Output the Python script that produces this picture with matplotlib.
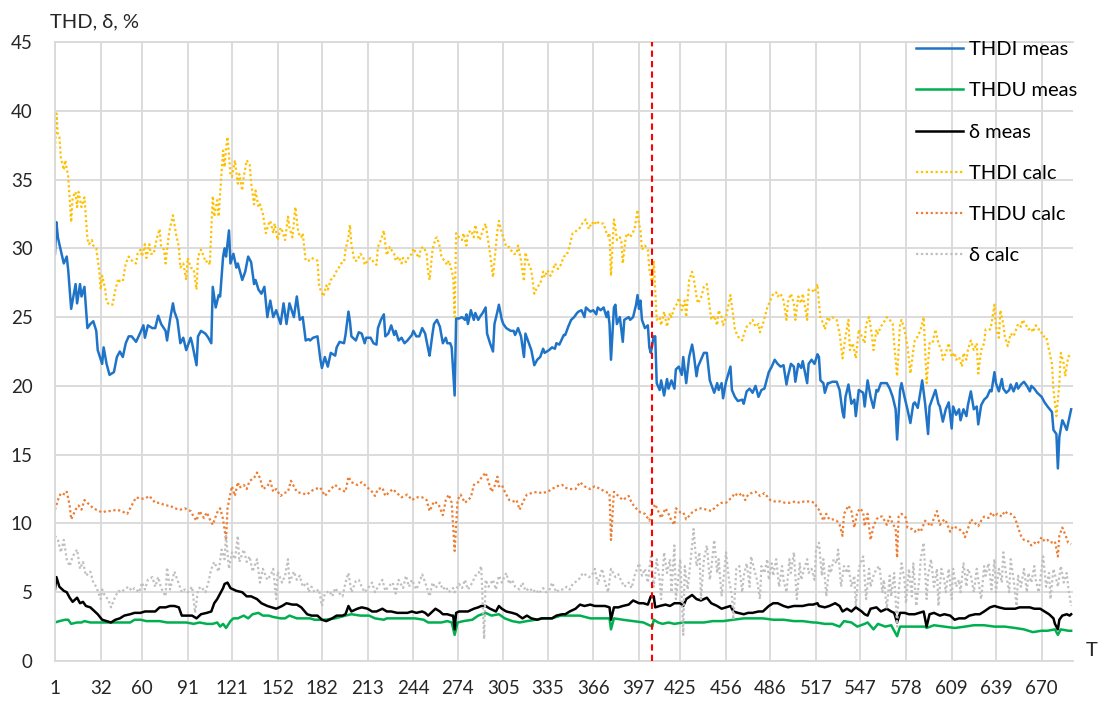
import matplotlib.pyplot as plt

# (day, value %)
thdi_meas = [(1,29.6),(2,31.9),(3,30.8),(4,30.3),(7,28.9),(9,29.4),(10,28.4),(12,25.6),(15,27.4),(16,26.0),(18,27.4),(19,26.5),(21,27.2),(23,24.2),(25,24.5),(27,24.7),(29,24.0),(30,22.6),(33,21.6),(34,22.8),(36,21.6),(38,20.8),(41,21.0),(43,22.1),(45,22.5),(47,22.1),(49,23.1),(51,23.6),(53,23.6),(56,23.2),(59,23.9),(61,24.4),(62,23.5),(64,24.4),(67,24.2),(69,24.2),(71,25.1),(73,24.5),(76,24.0),(77,23.3),(79,24.8),(81,26.0),(82,25.4),(84,24.8),(86,23.1),(88,23.5),(90,22.6),(93,23.5),(94,23.1),(97,21.5),(98,23.6),(100,24.0),(103,23.8),(105,23.5),(107,23.1),(108,27.2),(110,25.7),(112,26.6),(113,26.5),(115,29.4),(116,30.0),(117,29.4),(119,31.3),(120,28.9),(122,29.6),(124,28.6),(125,28.9),(128,27.7),(130,28.3),(132,29.4),(134,29.0),(136,27.4),(137,27.7),(139,27.0),(141,26.7),(143,27.2),(145,25.0),(147,26.2),(149,25.0),(151,25.5),(154,24.5),(156,26.0),(158,24.5),(160,26.0),(163,25.0),(165,26.5),(167,24.8),(169,25.0),(171,23.3),(173,23.4),
             (174,23.3),(176,23.5),(179,23.6),(181,21.9),(182,21.3),(184,22.1),(186,21.4),(188,22.4),(191,22.2),(192,22.8),(194,23.2),(197,23.1),(198,23.7),(200,25.4),(201,24.7),(202,23.6),(205,23.3),(207,23.9),(209,23.8),(211,23.1),(212,23.5),(215,23.5),(217,23.1),(219,23.0),(220,24.2),(222,24.8),(224,25.2),(225,23.6),(227,23.8),(229,24.4),(231,23.7),(232,24.0),(234,23.3),(236,23.5),(238,23.1),(240,23.3),(243,23.7),(244,24.0),(246,23.6),(248,23.6),(250,24.2),(252,23.8),(254,22.7),(255,22.2),(257,23.8),(258,24.5),(260,24.8),(262,24.3),(264,23.1),(266,23.5),(267,23.1),(269,23.1),(270,22.8),(272,19.3),(273,24.9),(275,24.9),(277,25.0),(279,24.8),(280,25.2),(281,24.5),(283,25.5),(285,24.8),(286,25.3),(288,24.8),(289,25.0),(291,25.3),(293,25.7),(294,23.8),(296,23.1),(298,22.5),(299,24.5),(301,25.4),(302,25.9),(304,24.8),(305,24.5),(307,24.2),(310,24.0),(312,24.0),(313,23.7),(315,24.2),(317,23.6),(319,22.1),(320,23.8),(322,23.2),(324,22.6),(326,21.5),(328,21.9),(330,22.1),(332,22.7),(333,22.4),(336,22.6),(338,22.8),(340,22.7),(341,23.1),(343,23.0),(346,23.7),
             (347,23.7),(349,24.3),(351,24.8),(353,25.0),(355,25.3),(356,25.4),(358,25.5),(360,25.0),(361,25.7),(364,25.4),(366,25.5),(368,25.2),(369,25.7),(371,25.5),(373,25.7),(375,25.0),(376,25.4),(377,24.5),(378,21.9),(380,25.7),(381,25.9),(382,24.5),(384,25.0),(386,23.2),(387,24.8),(390,25.0),(391,24.8),(393,25.0),(395,25.9),(396,26.6),(397,25.6),(398,26.2),(399,24.8),(401,24.2),(403,24.4),(404,22.8),(405,22.4),(407,23.6),(408,23.6),(409,20.2),(411,19.7),(412,20.4),(414,19.3),(416,20.5),(417,19.8),(419,20.4),(421,19.8),(422,21.2),(424,21.4),(426,20.8),(427,22.1),(429,20.2),(431,22.1),(433,23.0),(434,22.4),(436,20.7),(437,21.4),(439,21.9),(441,22.4),(443,22.4),(445,20.4),(446,20.1),(448,19.5),(450,20.2),(451,19.7),(453,20.2),(454,19.1),(456,20.3),(459,21.4),(460,19.7),(462,19.2),(464,18.9),(467,19.0),(468,18.7),(470,19.6),(472,19.8),(474,19.5),(476,20.0),(478,19.2),(480,19.7),(482,19.8),(485,21.0),(487,21.4),(489,21.9),(491,21.6),(493,21.4),(495,21.5),(497,20.1),(498,20.7),(500,21.6),(502,21.4),(503,20.3),(505,21.6),(507,21.3),(508,21.8),(511,20.2),(512,21.6),(514,21.9),(516,21.6),(518,22.3),
             (519,22.1),(520,20.4),(522,20.2),(523,19.5),(525,20.2),(526,20.2),(528,20.3),(531,20.3),(533,19.7),(535,18.1),(536,17.7),(537,19.2),(539,20.1),(541,18.7),(543,19.0),(544,17.8),(546,19.7),(549,19.5),(550,18.5),(552,20.4),(554,19.2),(556,18.4),(558,19.7),(559,19.6),(561,20.2),(563,20.2),(565,20.2),(567,19.8),(569,19.2),(571,18.3),(572,16.1),(574,19.7),(575,20.2),(577,19.2),(579,18.3),(581,17.3),(583,18.7),(584,18.8),(586,18.4),(588,19.7),(589,20.4),(591,18.7),(593,16.5),(594,18.5),(596,19.1),(598,19.7),(600,18.7),(601,18.5),(603,17.4),(605,18.3),(607,18.8),(609,16.9),(610,18.5),(612,17.9),(614,18.3),(615,17.5),(617,18.3),(619,17.8),(620,18.6),(622,19.6),(624,18.3),(626,18.5),(627,17.2),(629,18.6),(631,19.0),(633,19.2),(635,19.7),(636,19.6),(638,21.0),(639,20.2),(641,19.6),(643,20.5),(644,19.8),(646,19.5),(648,19.7),(649,20.1),(651,19.6),(653,20.2),(654,19.8),(656,20.1),(658,20.3),(660,20.0),(662,19.6),(663,20.0),(665,19.8),(667,19.5),(670,19.2),(672,18.8),(674,18.5),(677,18.1),(678,16.8),(680,16.5),(681,14.0),(682,16.3),(684,17.5),(685,17.3),(687,16.8),(689,17.8),(690,18.3)]

thdu_meas = [(1,2.8),(4,2.9),(8,3.0),(10,3.0),(12,2.7),(16,2.8),(19,2.8),(21,2.9),(25,2.8),(29,2.8),(34,2.8),(38,2.8),(43,2.8),(47,2.8),(52,2.8),(55,3.0),(59,3.0),(63,2.9),(68,2.9),(72,2.9),(77,2.8),(81,2.8),(86,2.8),(90,2.8),(95,2.7),(99,2.8),(104,2.7),(108,2.7),(111,2.8),(113,2.5),(115,2.7),(117,2.4),(120,2.9),(122,3.1),(125,3.1),(129,3.3),(132,3.1),(135,3.4),(139,3.5),(142,3.3),(146,3.3),(149,3.2),(154,3.1),(157,3.1),(160,3.3),(165,3.1),(169,3.1),(174,3.1),
             (177,3.0),(184,3.0),(191,3.1),(198,3.3),(202,3.4),(208,3.3),(214,3.3),(218,3.1),(224,3.0),(226,3.1),(232,3.1),(238,3.1),(245,3.1),(251,3.0),(254,2.8),(259,2.8),(263,2.8),(267,2.9),(270,2.8),(272,1.9),(274,2.8),(278,2.9),(284,3.0),(288,3.3),(293,3.5),(297,3.3),(302,3.4),(306,3.1),(311,2.9),(316,2.8),(321,2.9),(327,3.0),(332,3.1),(338,3.1),(344,3.3),
             (350,3.3),(357,3.3),(364,3.1),(371,3.1),(377,3.1),(378,2.3),(380,3.1),(386,3.0),(393,2.9),(400,2.8),(406,2.5),(407,3.0),(410,2.8),(413,2.7),(417,2.8),(421,2.7),(427,2.8),(434,2.8),(441,2.8),(447,2.9),(454,2.9),(461,3.0),(468,3.1),(474,3.1),(481,3.1),(488,3.0),(495,3.0),(502,2.9),(508,2.9),(515,2.8),
             (517,2.8),(523,2.7),(528,2.7),(533,2.5),(536,2.9),(541,2.8),(545,2.5),(550,2.7),(552,2.8),(556,2.3),(559,2.7),(564,2.5),(568,2.6),(572,1.8),(574,2.5),(579,2.5),(585,2.5),(591,2.5),(592,2.4),(597,2.6),(604,2.5),(611,2.4),(618,2.5),(624,2.6),(631,2.6),(638,2.5),(645,2.5),(652,2.4),(658,2.3),(664,2.1),(670,2.2),(674,2.2),(679,2.3),(681,1.9),(683,2.3),(688,2.2),(690,2.2)]

delta_meas = [(1,5.2),(2,6.1),(4,5.4),(7,5.1),(9,5.0),(11,4.6),(13,4.3),(16,4.6),(18,4.2),(20,4.3),(22,4.0),(25,3.9),(28,3.6),(30,3.4),(33,3.0),(36,2.9),(39,2.8),(42,3.0),(45,3.1),(48,3.3),(52,3.4),(55,3.5),(59,3.5),(62,3.6),(65,3.6),(69,3.6),(72,3.9),(76,3.9),(79,4.0),(82,4.0),(85,3.9),(87,3.3),(90,3.3),(94,3.3),(97,3.1),(100,3.4),(104,3.5),(107,3.6),(109,4.2),(111,4.5),(113,4.9),(115,5.3),(116,5.6),(118,5.7),(120,5.3),(122,5.2),(124,5.1),(128,5.0),(131,4.7),(134,4.7),(138,4.5),(141,4.2),(145,4.0),(148,3.9),(151,3.8),(155,4.0),(158,4.2),(162,4.1),(165,4.1),(168,3.9),(172,3.4),
              (175,3.3),(179,3.3),(182,3.0),(185,2.9),(189,3.1),(192,3.3),(196,3.3),(198,3.4),(200,4.0),(202,3.6),(206,3.8),(209,3.9),(213,3.8),(216,3.6),(219,3.6),(223,3.8),(226,3.6),(229,3.6),(233,3.5),(236,3.5),(240,3.5),(243,3.6),(246,3.5),(250,3.6),(252,3.5),(254,3.3),(257,3.6),(259,3.8),(262,3.6),(264,3.4),(267,3.4),(270,3.3),(271,3.3),(272,2.3),(273,3.5),(275,3.6),(278,3.6),(281,3.6),(285,3.8),(288,3.9),(290,4.0),(293,4.0),(296,3.8),(300,3.6),(302,4.0),(304,3.8),(307,3.6),(311,3.5),(314,3.4),(318,3.1),(321,3.3),(324,3.1),(328,3.0),(331,3.1),(335,3.1),(338,3.1),(341,3.3),(345,3.4),
              (347,3.4),(350,3.6),(354,3.8),(357,4.1),(360,4.0),(364,4.1),(367,4.0),(371,4.0),(374,4.0),(377,3.9),(378,3.0),(380,3.9),(383,3.9),(386,4.0),(390,4.1),(393,4.4),(397,4.2),(400,4.2),(403,4.1),(405,4.7),(407,4.7),(408,3.9),(411,4.0),(415,4.1),(418,4.0),(421,4.2),(425,4.2),(427,4.0),(429,4.5),(433,4.8),(436,4.5),(439,4.4),(443,4.6),(446,4.2),(450,4.0),(453,3.8),(456,3.9),(459,4.0),(461,3.6),(464,3.5),(468,3.4),(471,3.5),(474,3.5),(478,3.6),(481,3.6),(485,4.0),(488,4.2),(491,4.2),(495,4.0),(498,3.9),(502,4.0),(505,4.0),(508,4.0),(512,4.1),(515,4.1),(518,4.2),
              (519,4.0),(523,3.9),(526,4.0),(530,4.2),(533,4.0),(535,3.6),(538,3.8),(541,3.6),(544,3.9),(548,3.6),(550,3.4),(552,3.3),(554,3.8),(558,3.9),(561,3.6),(565,3.8),(568,3.6),(570,3.5),(572,2.8),(574,3.5),(577,3.5),(580,3.4),(584,3.4),(587,3.5),(590,3.6),(592,2.5),(594,3.4),(597,3.5),(601,3.3),(604,3.4),(608,3.3),(611,3.0),(614,3.1),(618,3.1),(621,3.3),(625,3.4),(628,3.4),(631,3.6),(635,3.9),(638,4.0),(641,3.9),(645,3.8),(648,3.8),(652,3.8),(655,3.9),(658,3.9),(662,3.9),(665,3.8),(669,3.8),(672,3.6),(675,3.4),(678,3.1),(679,2.7),(681,2.3),(682,3.0),(684,3.3),(687,3.4),(689,3.3),(690,3.4)]

thdi_calc = [(1,36.9),(2,39.8),(3,38.3),(4,38.1),(5,36.6),(7,35.7),(8,36.4),(10,35.2),(12,31.9),(13,33.7),(15,34.1),(16,33.0),(17,34.1),(19,33.0),(21,33.7),(23,30.7),(24,30.3),(26,30.6),(27,30.2),(29,30.0),(31,28.4),(32,27.0),(33,28.0),(35,27.1),(36,26.1),(38,25.9),(40,25.9),(42,27.0),(44,27.8),(45,27.6),(47,27.6),(49,28.9),(51,29.4),(54,29.0),(56,28.9),(57,29.6),(59,29.9),(60,29.4),(62,30.3),(63,29.3),(65,30.3),(66,29.6),(68,29.6),(70,30.7),(72,31.4),(73,30.1),(75,29.9),(76,28.9),(78,30.8),(79,31.5),(81,32.4),(83,31.1),(85,30.1),(86,28.6),(88,28.9),(90,27.7),(91,29.3),(93,28.6),(95,28.5),(97,27.0),(98,29.4),(100,29.9),(102,29.4),(103,29.0),(105,29.1),(106,28.8),(108,33.8),(109,32.3),(111,33.5),(112,32.3),(113,34.0),(115,37.1),(116,35.9),(117,37.3),(118,38.1),(120,35.4),(121,35.2),(123,36.4),(125,34.7),(126,35.4),(128,34.2),(129,35.2),(131,36.4),(133,36.1),(134,34.8),(136,33.2),(137,34.2),(139,33.0),(140,33.2),(142,32.5),(144,31.1),(146,31.8),(147,32.0),(149,31.1),(150,31.8),(152,30.6),(154,31.5),(155,31.3),(157,30.6),(159,32.3),(160,31.5),(162,30.8),(164,33.0),(166,31.1),(168,30.8),(169,31.1),(171,29.1),(173,29.1),
             (175,29.3),(179,29.1),(180,27.4),(181,27.0),(183,26.5),(185,27.3),(186,27.0),(188,27.7),(190,27.9),(191,28.2),(193,28.5),(195,28.9),(197,29.0),(198,29.9),(200,30.8),(201,31.7),(202,30.3),(204,29.1),(206,29.1),(208,29.6),(210,29.4),(211,28.8),(213,29.1),(215,29.3),(217,29.0),(219,28.8),(220,30.1),(222,30.6),(224,31.3),(225,30.3),(226,29.5),(228,30.1),(229,29.9),(231,29.6),(232,29.1),(234,29.4),(236,28.9),(237,29.3),(239,29.0),(241,29.4),(243,29.6),(244,30.0),(246,29.6),(248,29.3),(249,30.0),(251,30.1),(253,29.6),(254,28.3),(255,27.7),(257,29.9),(259,30.7),(260,30.8),(262,30.1),(263,29.4),(265,29.1),(267,28.8),(268,29.1),(270,28.4),(271,27.9),(272,25.0),(273,31.1),(275,30.8),(277,30.6),(278,31.1),(280,30.2),(281,31.1),(283,31.3),(285,30.8),(286,31.7),(288,30.8),(289,30.6),(291,31.3),(293,31.8),(295,30.3),(296,29.6),(298,27.9),(299,29.1),(301,31.3),(302,32.0),(304,31.1),(305,30.8),(307,30.1),(309,30.1),(310,29.9),(312,29.6),(314,29.6),(315,30.2),(317,29.1),(319,27.6),(320,29.7),(322,28.9),(324,28.4),(326,26.7),(328,27.2),(330,27.4),(332,28.3),(333,27.9),(335,28.4),(337,28.0),(338,28.2),(340,28.9),(342,28.5),(344,28.8),(346,29.4),
             (348,29.5),(350,30.2),(352,31.1),(355,31.3),(357,31.5),(359,31.9),(361,32.1),(363,31.4),(365,31.9),(367,31.7),(368,32.0),(370,31.8),(372,31.8),(373,31.8),(375,31.1),(376,30.9),(377,31.1),(378,28.0),(380,32.1),(381,31.5),(382,30.6),(384,30.8),(385,30.5),(386,28.9),(388,30.8),(389,31.1),(391,30.8),(393,31.2),(394,31.4),(396,32.8),(397,31.8),(398,31.3),(399,29.9),(401,30.2),(403,29.9),(404,28.5),(406,27.4),(407,29.1),(408,27.0),(409,24.8),(411,25.0),(412,24.4),(414,25.4),(416,24.3),(418,25.3),(419,25.0),(421,25.7),(423,26.0),(424,26.4),(426,25.5),(428,26.2),(429,25.0),(431,27.7),(433,28.3),(434,27.9),(436,26.5),(437,26.0),(439,26.4),(441,27.2),(443,27.4),(445,25.7),(446,24.8),(448,25.1),(450,24.4),(451,25.5),(453,25.0),(454,24.4),(456,25.0),(459,26.6),(461,25.0),(462,24.1),(464,23.6),(467,23.3),(468,23.7),(470,24.3),(472,24.5),(474,24.8),(476,24.3),(478,24.5),(479,23.9),(481,24.5),(484,25.7),(486,26.2),(488,26.7),(490,26.8),(491,26.5),(493,26.7),(495,26.2),(497,24.8),(498,26.1),(500,26.7),(502,26.0),(503,24.8),(505,26.5),(507,26.0),(508,26.7),(511,24.8),(512,27.0),(514,27.0),(516,26.8),(518,27.4),
             (519,26.0),(520,25.0),(522,24.5),(523,24.1),(525,25.0),(526,24.8),(528,25.0),(531,24.8),(533,23.8),(535,22.0),(537,23.6),(539,24.8),(540,22.6),(542,23.1),(544,22.0),(546,24.1),(548,23.6),(550,23.1),(551,24.5),(553,25.0),(555,23.6),(556,22.6),(558,24.1),(559,23.8),(561,24.3),(564,24.8),(565,25.0),(567,24.8),(569,24.5),(570,23.1),(572,20.7),(574,24.5),(575,24.8),(577,24.1),(579,22.9),(581,20.9),(583,22.6),(584,23.3),(586,23.6),(588,24.1),(590,25.0),(591,22.6),(592,20.2),(594,23.1),(596,23.1),(598,24.1),(600,23.1),(602,22.6),(603,21.9),(605,22.4),(607,23.1),(609,22.1),(611,22.4),(612,21.9),(614,22.1),(616,21.4),(617,22.4),(619,21.9),(620,22.6),(622,23.3),(624,22.6),(626,23.1),(627,20.9),(629,22.6),(631,23.1),(632,24.1),(635,24.1),(636,24.5),(638,25.9),(639,24.3),(641,23.5),(642,25.5),(644,24.5),(645,23.6),(647,22.9),(649,23.8),(651,23.6),(652,23.9),(654,24.5),(656,24.3),(657,24.8),(659,24.5),(661,24.1),(663,24.2),(664,23.9),(666,24.4),(668,24.1),(669,24.1),(671,23.6),(673,23.6),(675,22.6),(677,21.6),(678,19.7),(680,17.8),(682,20.2),(683,22.4),(685,21.6),(686,20.7),(688,22.1),(690,22.4)]

thdu_calc = [(1,11.0),(3,11.7),(5,12.2),(8,12.1),(9,12.3),(11,11.3),(12,10.3),(15,11.0),(17,11.3),(19,11.0),(21,11.7),(23,11.5),(25,11.3),(27,11.1),(29,11.0),(33,10.8),(36,10.9),(39,10.9),(43,11.0),(46,10.9),(50,10.7),(53,11.3),(56,11.9),(59,11.8),(62,11.8),(65,12.0),(69,11.5),(72,11.5),(76,11.3),(79,11.3),(82,11.1),(86,11.0),(89,11.1),(93,10.9),(95,10.5),(97,10.2),(99,10.9),(102,10.4),(104,10.8),(106,10.3),(108,9.9),(111,10.8),(113,11.1),(115,10.3),(117,8.8),(118,11.1),(120,12.2),(121,12.7),(123,12.0),(125,13.0),(126,12.6),(129,12.8),(131,12.5),(133,13.1),(136,13.3),(138,13.7),(140,13.3),(142,12.5),(145,12.7),(147,13.1),(149,12.3),(151,12.5),(154,12.0),(156,12.2),(159,12.3),(161,13.1),(165,12.3),(168,12.2),(172,12.1),
             (174,12.3),(177,12.5),(181,12.6),(184,12.0),(188,12.5),(191,12.8),(194,12.5),(198,12.3),(200,13.4),(202,13.0),(206,12.8),(209,13.0),(212,12.7),(216,12.3),(218,12.0),(220,12.5),(223,12.6),(225,12.0),(227,12.2),(230,12.5),(233,12.2),(236,11.9),(240,12.1),(243,11.7),(246,11.9),(250,11.9),(253,11.7),(255,10.9),(258,11.6),(261,11.4),(264,10.6),(266,11.7),(268,12.1),(270,11.5),(272,8.0),(274,11.7),(276,12.1),(279,11.5),(283,11.9),(285,12.8),(288,13.0),(290,13.3),(293,13.7),(295,13.0),(297,12.3),(299,12.7),(301,13.4),(302,12.7),(304,12.8),(306,12.3),(309,11.7),(312,11.6),(314,11.7),(316,11.0),(319,11.7),(321,12.1),(324,12.2),(328,12.3),(331,12.2),(335,12.3),(338,12.5),(341,12.7),(345,12.8),
             (347,12.6),(350,12.5),(354,12.5),(357,13.0),(360,12.7),(364,12.5),(367,12.7),(371,12.5),(374,12.3),(377,12.2),(378,8.8),(380,12.3),(383,12.0),(386,11.7),(390,12.0),(392,11.5),(395,11.1),(398,10.8),(401,10.7),(404,10.2),(406,11.0),(408,11.4),(410,10.9),(412,10.4),(415,11.1),(417,10.7),(419,10.2),(421,9.9),(422,11.1),(425,10.8),(427,10.8),(429,10.3),(433,10.8),(436,11.0),(439,11.1),(443,11.0),(446,10.9),(450,11.3),(453,11.5),(456,11.5),(460,11.9),(462,12.2),(464,12.0),(467,12.2),(469,11.7),(471,12.1),(473,12.2),(476,12.3),(479,12.0),(482,12.2),(486,11.7),(489,11.6),(493,11.6),(496,11.5),(499,11.5),(503,11.6),(506,11.5),(509,11.6),(513,11.6),(516,11.5),(518,11.1),
             (519,11.0),(522,10.2),(524,10.7),(526,10.3),(528,10.3),(531,10.2),(533,9.9),(535,9.1),(536,10.7),(539,11.3),(541,10.9),(543,9.7),(545,10.8),(547,11.1),(549,10.8),(550,9.8),(552,10.7),(554,8.8),(556,9.8),(558,10.3),(560,10.5),(562,10.5),(565,9.9),(567,10.5),(569,10.0),(571,9.6),(572,7.5),(573,10.5),(575,10.7),(578,10.4),(579,9.7),(582,9.6),(584,9.4),(586,9.6),(588,9.4),(591,10.2),(593,10.0),(595,9.8),(597,10.4),(599,10.9),(601,9.9),(604,10.3),(605,10.2),(608,9.4),(610,9.8),(612,9.7),(614,9.6),(617,9.3),(618,9.0),(620,9.6),(622,10.3),(625,10.0),(627,9.8),(629,10.2),(631,10.5),(634,10.4),(636,10.8),(638,10.5),(640,10.7),(643,10.5),(645,10.9),(647,10.7),(649,10.7),(652,10.4),(654,9.7),(656,9.1),(658,8.8),(661,8.7),(663,8.4),(665,8.6),(667,8.5),(670,9.0),(672,8.7),(674,8.8),(676,8.6),(679,8.7),(681,7.6),(682,9.1),(684,9.7),(686,9.2),(688,8.6),(690,8.5)]

delta_calc = [(1,9.1),(3,8.8),(5,7.9),(7,8.8),(9,7.4),(11,6.9),(13,7.6),(16,8.1),(18,6.7),(20,7.2),(22,6.2),(25,6.5),(27,5.7),(29,5.4),(32,4.5),(33,5.2),(35,4.7),(37,4.5),(39,3.9),(42,4.7),(44,5.1),(46,5.0),(48,5.2),(51,5.4),(53,5.1),(55,5.3),(58,5.0),(60,5.7),(62,5.2),(64,5.9),(67,6.1),(69,5.4),(71,6.1),(73,5.3),(76,4.7),(77,6.8),(79,5.2),(82,6.5),(85,5.6),(87,5.0),(89,5.2),(91,5.0),(94,5.4),(96,3.5),(98,5.2),(100,5.4),(103,5.0),(105,5.7),(107,6.7),(109,7.2),(112,6.5),(114,8.1),(116,7.4),(117,9.1),(119,6.7),(121,7.9),(123,7.4),(125,9.1),(126,7.2),(129,8.1),(131,7.2),(133,7.6),(135,6.5),(138,7.4),(140,5.7),(142,6.7),(145,5.9),(147,6.2),(149,6.7),(151,4.5),(152,6.5),(155,5.7),(157,6.2),(159,7.4),(160,5.7),(163,6.5),(165,5.9),(167,6.2),(169,5.4),(172,5.7),
              (173,5.0),(175,5.4),(177,5.0),(180,5.2),(182,4.0),(184,4.9),(187,5.1),(189,4.7),(191,5.3),(193,5.0),(196,4.7),(198,5.7),(200,6.4),(202,5.0),(205,5.8),(207,5.9),(209,5.4),(211,5.0),(214,5.4),(216,5.7),(218,5.0),(220,5.4),(223,5.9),(225,5.1),(227,5.4),(230,5.7),(232,4.9),(234,5.9),(237,5.3),(239,6.2),(241,5.4),(243,5.9),(246,5.2),(248,5.7),(250,6.3),(253,5.4),(255,4.7),(257,5.7),(259,5.3),(262,5.7),(264,5.2),(266,5.4),(268,5.0),(271,5.3),(272,5.0),(275,5.6),(277,5.3),(279,5.9),(281,5.2),(284,5.7),(286,6.2),(288,6.3),(290,6.9),(292,1.6),(293,5.9),(295,5.4),(298,5.9),(300,5.2),(302,6.2),(304,5.7),(307,6.4),(309,5.6),(311,5.9),(313,5.4),(316,5.2),(318,5.7),(320,5.1),(323,5.3),(325,5.0),(327,5.2),(329,4.9),(332,5.3),(334,5.0),(336,5.1),(338,5.7),(341,5.0),(343,5.2),(346,5.2),
              (348,5.4),(350,5.2),(352,5.6),(356,5.9),(359,6.4),(363,6.1),(365,6.2),(367,6.7),(369,5.6),(372,6.7),(374,5.7),(376,5.0),(378,6.7),(381,6.1),(383,6.3),(385,5.8),(387,5.4),(390,5.7),(392,5.3),(394,6.2),(397,7.1),(399,6.2),(401,6.7),(403,5.7),(405,7.6),(407,5.4),(409,7.4),(411,5.9),(412,4.5),(414,7.9),(416,6.4),(418,7.4),(419,5.0),(421,8.4),(422,4.5),(425,7.4),(427,1.9),(428,6.9),(430,5.2),(433,8.4),(434,9.6),(436,6.9),(438,7.9),(439,4.5),(441,7.4),(443,8.4),(445,5.9),(446,6.7),(448,8.8),(450,6.4),(451,7.4),(453,4.7),(455,6.7),(456,7.9),(458,5.9),(460,4.7),(461,3.0),(463,6.7),(465,6.9),(467,5.0),(468,6.2),(470,7.1),(472,5.4),(473,7.6),(475,6.7),(477,5.9),(479,4.5),(480,6.9),(482,6.4),(484,7.4),(485,5.9),(487,7.1),(488,6.2),(490,7.4),(492,5.4),(494,6.9),(495,5.9),(497,5.0),(499,7.4),(500,6.4),(502,7.9),(504,4.5),(506,7.1),(507,5.9),(509,6.7),(511,7.4),(512,6.4),(514,6.7),(516,5.9),(517,8.1),
              (519,8.6),(521,6.2),(522,7.4),(524,4.7),(526,6.9),(527,6.4),(529,7.4),(531,7.1),(532,8.1),(534,5.4),(536,6.9),(538,6.4),(539,6.9),(541,5.4),(543,6.2),(544,4.0),(546,6.7),(548,7.4),(549,7.6),(551,4.5),(553,6.7),(554,5.4),(556,6.2),(558,6.7),(560,6.9),(562,5.0),(563,5.9),(565,3.8),(567,6.2),(568,4.7),(570,6.4),(572,2.5),(573,5.0),(575,7.1),(577,5.9),(578,4.2),(580,6.7),(582,4.7),(583,7.1),(585,4.0),(587,5.9),(588,7.4),(590,8.6),(592,4.5),(593,6.2),(595,7.4),(597,5.4),(599,6.7),(600,4.0),(602,6.7),(604,5.9),(605,5.0),(607,6.7),(609,4.5),(610,6.7),(612,5.4),(614,5.9),(615,5.0),(617,7.1),(619,5.4),(620,6.7),(622,6.2),(624,5.0),(626,6.7),(627,5.9),(629,4.5),(631,6.9),(632,6.2),(634,7.1),(636,5.2),(638,7.4),(639,5.0),(641,6.7),(643,5.7),(644,7.9),(646,6.2),(648,5.0),(649,7.4),(651,5.9),(653,4.0),(654,6.2),(656,5.4),(658,6.7),(660,5.0),(661,6.4),(663,5.7),(665,6.9),(666,5.9),(668,5.0),(670,6.7),(671,7.6),(673,5.4),(675,6.4),(676,4.5),(678,6.7),(680,5.9),(681,5.4),(683,6.9),(685,5.7),(687,6.4),(688,5.4),(690,4.0)]

month_ticks = [1, 32, 60, 91, 121, 152, 182, 213, 244, 274, 305, 335, 366, 397,
               425, 456, 486, 517, 547, 578, 609, 639, 670]
split_day = 406

# label, data, colour, linestyle, width
series = [
    ("THDI meas", thdi_meas, "#1F74C8", "-", 1.8),
    ("THDU meas", thdu_meas, "#00B050", "-", 1.8),
    ("δ meas", delta_meas, "#000000", "-", 1.8),
    ("THDI calc", thdi_calc, "#FFC000", (0, (1, 1.2)), 1.6),
    ("THDU calc", thdu_calc, "#ED7D31", (0, (1, 1.2)), 1.6),
    ("δ calc", delta_calc, "#BFBFBF", (0, (1, 1.2)), 1.6),
]

plt.rcParams['font.family'] = ['Lato', 'DejaVu Sans']

fig = plt.figure(figsize=(10.99, 7.02), dpi=100)
ax = fig.add_axes([0.05, 0.0584, 0.926, 0.8818])

for name, pts, col, ls, lw in series:
    xs = [p[0] for p in pts]
    ys = [p[1] for p in pts]
    ax.plot(xs, ys, color=col, linestyle=ls, linewidth=lw, label=name)

ax.axvline(split_day, color="#FF0000", linestyle=(0, (3, 2)), linewidth=1.5, zorder=5)

ax.set_xlim(1, 691)
ax.set_ylim(0, 45)
ax.set_xticks(month_ticks)
ax.set_yticks(range(0, 46, 5))
ax.grid(color="#D9D9D9", linewidth=1.3)
ax.set_axisbelow(True)
ax.tick_params(length=0, labelsize=13.5, colors="#262626")
ax.tick_params(axis='x', pad=14)
ax.tick_params(axis='y', pad=16)
for side in ["left", "bottom", "top"]:
    ax.spines[side].set_color("#D9D9D9")
    ax.spines[side].set_linewidth(1.3)
ax.spines["right"].set_visible(False)

fig.text(50 / 1099, 1 - 22 / 702, "THD, δ, %", fontsize=14.5, va="center", ha="left", color="#262626")
fig.text(1092 / 1099, 1 - 650 / 702, "T", fontsize=14.5, va="center", ha="center", color="#262626")

ax.legend(loc="upper left", bbox_to_anchor=(908 / 1099, 1 - 33 / 702), bbox_transform=fig.transFigure,
          frameon=False, fontsize=14.5, handlelength=2.34, handletextpad=0.3, labelspacing=1.2,
          borderaxespad=0)

fig.savefig("out.png", dpi=100)
